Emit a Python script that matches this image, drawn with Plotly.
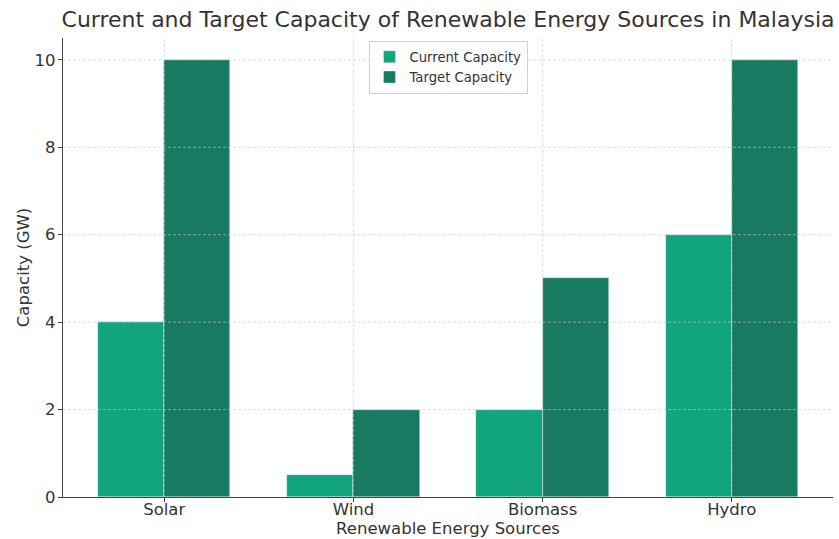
import plotly.graph_objects as go

categories = ["Solar", "Wind", "Biomass", "Hydro"]
current_capacity = [4, 0.5, 2, 6]
target_capacity = [10, 2, 5, 10]
y_ticks = [0, 2, 4, 6, 8, 10]

C_CUR = "#12A37F"
C_TGT = "#177A61"
TXT = "#333333"
FONT = "DejaVu Sans"

x_idx = list(range(len(categories)))
w = 0.35

fig = go.Figure()
fig.add_trace(go.Bar(
    x=[i - w / 2 for i in x_idx], y=current_capacity, width=w,
    name="Current Capacity", marker=dict(color=C_CUR, line=dict(width=0.6, color="rgba(255,255,255,0.6)")),
))
fig.add_trace(go.Bar(
    x=[i + w / 2 for i in x_idx], y=target_capacity, width=w,
    name="Target Capacity", marker=dict(color=C_TGT, line=dict(width=0.6, color="rgba(255,255,255,0.6)")),
))

grid_col = "rgba(200,200,200,0.75)"
shapes = []
for t in y_ticks[1:]:
    shapes.append(dict(type="line", xref="paper", x0=0, x1=1, yref="y", y0=t, y1=t,
                       line=dict(color=grid_col, width=0.8, dash="3px,2px"), layer="above"))
for i in x_idx:
    shapes.append(dict(type="line", xref="x", x0=i, x1=i, yref="paper", y0=0, y1=1,
                       line=dict(color=grid_col, width=0.8, dash="3px,2px"), layer="above"))

fig.update_layout(
    width=839, height=539,
    margin=dict(l=63, r=6, t=38, b=42),
    paper_bgcolor="white", plot_bgcolor="white",
    barmode="overlay",
    bargap=0,
    font=dict(family=FONT, color=TXT, size=16),
    title=dict(text="Current and Target Capacity of Renewable Energy Sources in Malaysia",
               x=0.534, xanchor="center", y=0.978, yanchor="top",
               font=dict(size=22, color=TXT, family=FONT)),
    xaxis=dict(
        range=[-0.535, 3.535], tickmode="array", tickvals=x_idx, ticktext=categories,
        showgrid=False, zeroline=False, showline=True, linecolor="#444444", linewidth=1.2,
        ticks="outside", ticklen=4, tickcolor="#444444", tickfont=dict(size=16.5, color=TXT),
        ticklabelstandoff=-7,
        title=dict(text="Renewable Energy Sources", font=dict(size=16.5, color=TXT), standoff=2),
        automargin=False,
    ),
    yaxis=dict(
        range=[0, 10.5], tickmode="array", tickvals=y_ticks,
        showgrid=False, zeroline=False, showline=True, linecolor="#444444", linewidth=1.2,
        ticks="outside", ticklen=4, tickcolor="#444444", tickfont=dict(size=16.5, color=TXT),
        ticklabelstandoff=-1,
        title=dict(text="Capacity (GW)", font=dict(size=16.5, color=TXT), standoff=0),
        automargin=False,
    ),
    legend=dict(
        x=0.5, xanchor="center", y=0.994, yanchor="top",
        bgcolor="rgba(255,255,255,0.8)", bordercolor="#d0d0d0", borderwidth=1,
        font=dict(size=13.2, color=TXT, family=FONT), tracegroupgap=0,
    ),
    shapes=shapes,
)

fig.write_html("out.html")
